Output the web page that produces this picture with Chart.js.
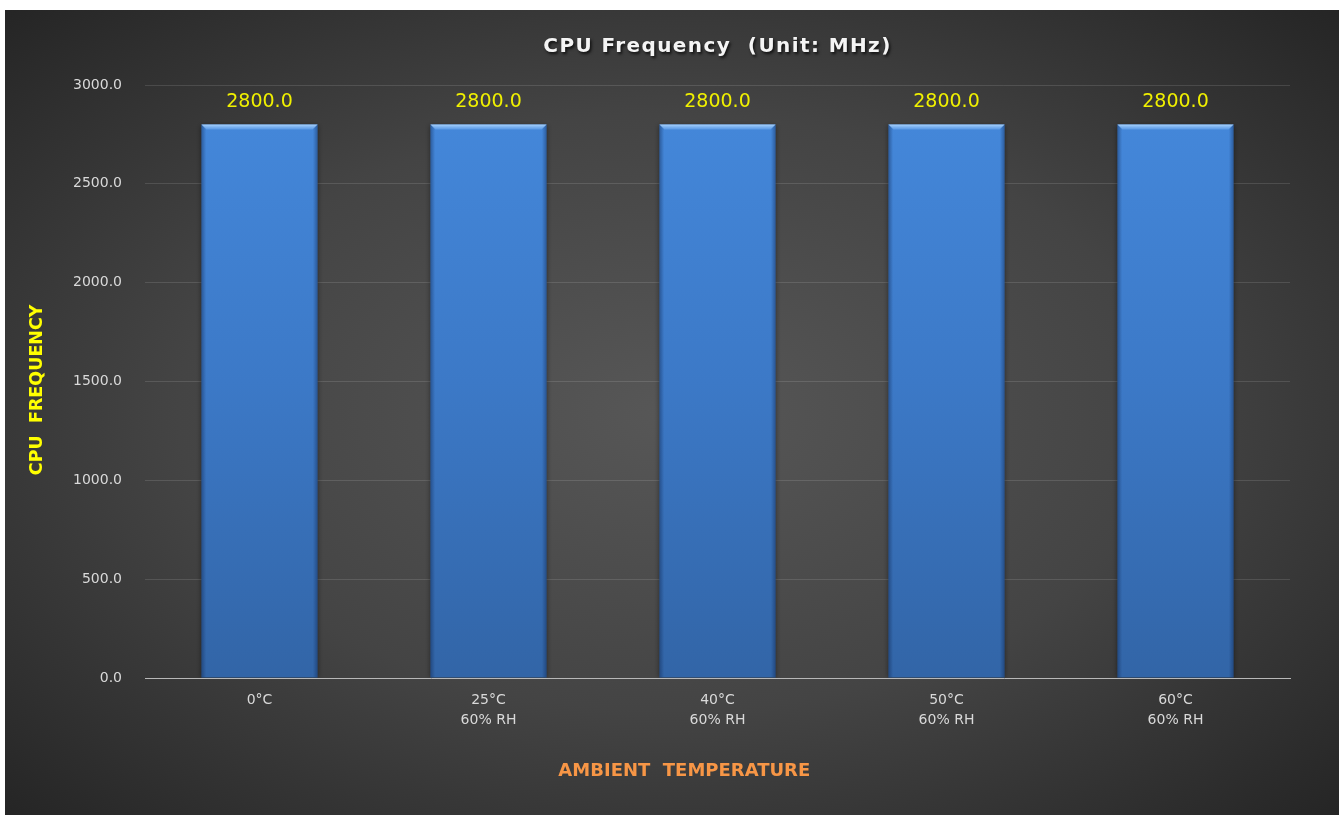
<!DOCTYPE html>
<html>
<head>
<meta charset="utf-8">
<title>CPU Frequency</title>
<script src="https://cdn.jsdelivr.net/npm/chart.js@4/dist/chart.umd.min.js"></script>
<style>
  html, body { margin: 0; padding: 0; background: #ffffff; }
  #wrap { position: absolute; left: 5px; top: 10px; width: 1334px; height: 805px; }
  canvas { display: block; }
</style>
</head>
<body>
<div id="wrap"><canvas id="chart" width="1334" height="805"></canvas></div>
<script>
// Test conditions (x axis) and measured CPU frequency in MHz
const categories = [
  ['0°C'],
  ['25°C', '60% RH'],
  ['40°C', '60% RH'],
  ['50°C', '60% RH'],
  ['60°C', '60% RH']
];
const cpuFrequency = [2800.0, 2800.0, 2800.0, 2800.0, 2800.0];
const yMin = 0;
const yMax = 3000;
const yStep = 500;

const chartTitle = 'CPU Frequency  (Unit: MHz)';
const xTitle = 'AMBIENT  TEMPERATURE';
const yTitle = 'CPU  FREQUENCY';

const FONT = "'DejaVu Sans', 'Noto Sans', sans-serif";

// Dark panel with a soft radial glow
const panelBackground = {
  id: 'panelBackground',
  beforeDraw(chart) {
    const { ctx, width, height } = chart;
    ctx.save();
    ctx.fillStyle = '#242424';
    ctx.fillRect(0, 0, width, height);
    const cx = width * 0.5, cy = height * 0.5;
    const sx = width / height;
    ctx.translate(cx, cy);
    ctx.scale(sx, 1);
    const r = height * 0.74;
    const g = ctx.createRadialGradient(0, 0, 0, 0, 0, r);
    g.addColorStop(0, '#575757');
    g.addColorStop(0.5, '#444444');
    g.addColorStop(1, '#222222');
    ctx.fillStyle = g;
    ctx.fillRect(-cx / sx - 2, -cy - 2, width / sx + 4, height + 4);
    ctx.restore();

    // spaced, shadowed chart title
    const tb = chart.titleBlock;
    if (tb && !tb._styled) {
      const baseDraw = tb.draw.bind(tb);
      tb.draw = function () {
        const c = chart.ctx;
        c.save();
        c.letterSpacing = '1.4px';
        c.shadowColor = 'rgba(0,0,0,0.75)';
        c.shadowBlur = 3;
        c.shadowOffsetX = 1.5;
        c.shadowOffsetY = 2;
        baseDraw();
        c.restore();
      };
      tb._styled = true;
    }
  }
};

// Soft shadow around the bars
const barShadow = {
  id: 'barShadow',
  beforeDatasetsDraw(chart) {
    const { ctx } = chart;
    ctx.save();
    ctx.shadowColor = 'rgba(0,0,0,0.42)';
    ctx.shadowBlur = 5;
    ctx.shadowOffsetX = 0;
    ctx.shadowOffsetY = 0;
  },
  afterDatasetsDraw(chart) {
    chart.ctx.restore();
  }
};

// Bevel highlight on the bars plus the value labels above them
const barFinish = {
  id: 'barFinish',
  afterDatasetsDraw(chart) {
    const { ctx } = chart;
    const meta = chart.getDatasetMeta(0);
    const values = chart.data.datasets[0].data;
    meta.data.forEach((bar, i) => {
      const { x, y, width, base } = bar.getProps(['x', 'y', 'width', 'base'], true);
      const l = x - width / 2;
      const r = x + width / 2;
      const h = base - y;
      ctx.save();
      // darker side edges
      const side = ctx.createLinearGradient(l, 0, r, 0);
      side.addColorStop(0, 'rgba(10,30,70,0.40)');
      side.addColorStop(0.04, 'rgba(10,30,70,0)');
      side.addColorStop(0.96, 'rgba(10,30,70,0)');
      side.addColorStop(1, 'rgba(10,30,70,0.40)');
      ctx.fillStyle = side;
      ctx.fillRect(l, y, width, h);
      // chamfered top bevel
      const bevel = 5;
      const top = ctx.createLinearGradient(0, y, 0, y + bevel);
      top.addColorStop(0, 'rgba(175,215,255,0.95)');
      top.addColorStop(1, 'rgba(110,170,240,0.55)');
      ctx.fillStyle = top;
      ctx.beginPath();
      ctx.moveTo(l, y);
      ctx.lineTo(r, y);
      ctx.lineTo(r - bevel, y + bevel);
      ctx.lineTo(l + bevel, y + bevel);
      ctx.closePath();
      ctx.fill();
      ctx.restore();

      // value label
      ctx.save();
      ctx.font = `19px ${FONT}`;
      ctx.fillStyle = '#f0f000';
      ctx.textAlign = 'center';
      ctx.textBaseline = 'middle';
      ctx.fillText(Number(values[i]).toFixed(1), x, y - 22);
      ctx.restore();
    });
  }
};

// Axis captions placed in the space reserved by the scales
const axisCaptions = {
  id: 'axisCaptions',
  afterDraw(chart) {
    const { ctx, chartArea } = chart;
    ctx.save();
    ctx.font = `bold 18px ${FONT}`;
    ctx.textAlign = 'center';
    ctx.textBaseline = 'middle';
    // x axis caption
    ctx.fillStyle = '#f79646';
    ctx.fillText(xTitle, chartArea.left + chartArea.width * 0.471, chartArea.bottom + 93);
    // y axis caption
    ctx.fillStyle = '#ffff00';
    ctx.translate(chartArea.left - 107.5, chartArea.top + chartArea.height * 0.514);
    ctx.rotate(-Math.PI / 2);
    ctx.font = `bold 17.5px ${FONT}`;
    ctx.fillText(yTitle, 0, 0);
    ctx.restore();
  }
};

new Chart(document.getElementById('chart'), {
  type: 'bar',
  data: {
    labels: categories,
    datasets: [{
      label: 'CPU Frequency',
      data: cpuFrequency,
      backgroundColor(context) {
        const area = context.chart.chartArea;
        if (!area) return '#3d7ccc';
        const g = context.chart.ctx.createLinearGradient(0, area.top, 0, area.bottom);
        g.addColorStop(0, '#4589dc');
        g.addColorStop(0.5, '#3c79c7');
        g.addColorStop(1, '#3265a7');
        return g;
      },
      borderWidth: 0,
      barPercentage: 0.507,
      categoryPercentage: 1.0
    }]
  },
  options: {
    responsive: false,
    animation: false,
    devicePixelRatio: 1,
    layout: { padding: { left: 0, right: 49, top: 0, bottom: 0 } },
    plugins: {
      legend: { display: false },
      tooltip: { enabled: false },
      title: {
        display: true,
        fullSize: false,
        text: chartTitle,
        color: '#f4f4f4',
        font: { family: FONT, size: 20, weight: 'bold', lineHeight: 1.2 },
        padding: { top: 25, bottom: 26 }
      }
    },
    scales: {
      x: {
        grid: { display: false, drawTicks: false },
        border: { display: true, color: '#b8b8b8', width: 1 },
        ticks: {
          color: '#d9d9d9',
          font: { family: FONT, size: 14, lineHeight: 1.43 },
          padding: 12,
          maxRotation: 0,
          autoSkip: false
        },
        title: { display: false, text: xTitle },
        afterFit(scale) { scale.height = 137; }
      },
      y: {
        min: yMin,
        max: yMax,
        grid: { color: 'rgba(255,255,255,0.12)', lineWidth: 1, drawTicks: false },
        border: { display: false },
        ticks: {
          stepSize: yStep,
          color: '#d9d9d9',
          font: { family: FONT, size: 14 },
          padding: 23,
          callback: (v) => Number(v).toFixed(1)
        },
        title: { display: false, text: yTitle },
        afterFit(scale) { scale.width = 140; }
      }
    }
  },
  plugins: [panelBackground, barShadow, barFinish, axisCaptions]
});
</script>
</body>
</html>
